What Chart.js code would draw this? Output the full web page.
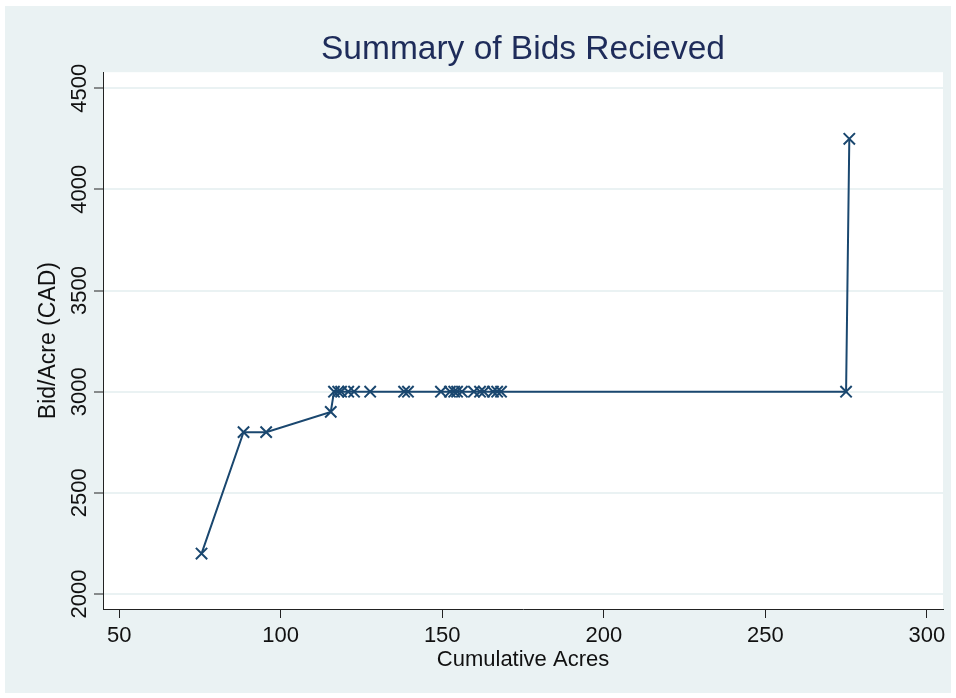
<!DOCTYPE html>
<html>
<head>
<meta charset="utf-8">
<script src="https://cdn.jsdelivr.net/npm/chart.js@4/dist/chart.umd.min.js"></script>
<style>
  html, body { margin: 0; padding: 0; background: #fff; }
  #wrap { width: 956px; height: 698px; }
</style>
</head>
<body>
<div id="wrap"><canvas id="bids"></canvas></div>
<script>
// cumulative acres vs bid per acre
const acres = [75.5, 88.5, 95.5, 115.5,
  116.5, 117.8, 118.7, 120.9, 122.7, 127.7, 138.2, 139.4,
  149.6, 152.4, 153.7, 154.6, 156.1, 159.8, 161.7, 162.9, 165.7, 167.0, 168.2,
  275.0, 276.0];
const bids = [2200, 2800, 2800, 2900,
  3000, 3000, 3000, 3000, 3000, 3000, 3000, 3000,
  3000, 3000, 3000, 3000, 3000, 3000, 3000, 3000, 3000, 3000, 3000,
  3000, 4250];

const xTicks = [50, 100, 150, 200, 250, 300];
const yTicks = [2000, 2500, 3000, 3500, 4000, 4500];

const navy = '#1a476f';
const bg = '#eaf2f3';

// stata style background: white edge, light panel, white plot region
const panelBg = {
  id: 'panelBg',
  beforeDraw(chart) {
    const ctx = chart.ctx;
    const a = chart.chartArea;
    ctx.save();
    ctx.fillStyle = '#ffffff';
    ctx.fillRect(0, 0, chart.width, chart.height);
    ctx.fillStyle = bg;
    ctx.fillRect(5, 6, 946, 687);
    ctx.fillStyle = '#ffffff';
    ctx.fillRect(a.left, a.top, a.right - a.left, a.bottom - a.top);
    ctx.restore();
  }
};

const pts = acres.map((x, i) => ({ x: x, y: bids[i] }));

new Chart(document.getElementById('bids'), {
  type: 'scatter',
  data: {
    datasets: [{
      data: pts,
      showLine: true,
      borderColor: navy,
      borderWidth: 2,
      pointStyle: 'crossRot',
      pointRadius: 8,
      pointBorderWidth: 2,
      pointBorderColor: navy,
      pointBackgroundColor: navy,
      tension: 0
    }]
  },
  options: {
    responsive: true,
    maintainAspectRatio: false,
    animation: false,
    layout: { padding: { top: 0, left: 0, right: 13, bottom: 0 } },
    plugins: {
      legend: { display: false },
      tooltip: { enabled: false },
      title: {
        display: true,
        text: 'Summary of Bids Recieved',
        fullSize: false,
        color: '#1e2c5a',
        font: { family: 'Liberation Sans', size: 33.5, weight: 'normal' },
        padding: { top: 30, bottom: 2 }
      }
    },
    scales: {
      x: {
        type: 'linear',
        min: 45,
        max: 305,
        afterBuildTicks: s => { s.ticks = xTicks.map(v => ({ value: v })); },
        afterFit: s => { s.height = 89; },
        grid: { drawOnChartArea: false, tickLength: 9, tickColor: '#222', tickWidth: 1 },
        border: { display: true, color: '#222', width: 1 },
        ticks: {
          color: '#111',
          font: { family: 'Liberation Sans', size: 22 },
          padding: 5,
          maxRotation: 0,
          callback: v => String(v)
        },
        title: {
          display: true,
          text: 'Cumulative Acres',
          color: '#111',
          font: { family: 'Liberation Sans', size: 22 },
          padding: { top: 0, bottom: 25 }
        }
      },
      y: {
        type: 'linear',
        min: 1926,
        max: 4579,
        afterBuildTicks: s => { s.ticks = yTicks.map(v => ({ value: v })); },
        afterFit: s => { s.width = 103; },
        grid: { color: bg, lineWidth: 2, tickLength: 9, tickColor: '#222', tickWidth: 1 },
        border: { display: true, color: '#222', width: 1 },
        ticks: {
          color: '#111',
          font: { family: 'Liberation Sans', size: 22 },
          minRotation: 90,
          maxRotation: 90,
          crossAlign: 'center',
          padding: -10,
          callback: v => String(v)
        },
        title: {
          display: true,
          text: 'Bid/Acre (CAD)',
          color: '#111',
          font: { family: 'Liberation Sans', size: 23 },
          padding: { top: 35, bottom: 0 }
        }
      }
    }
  },
  plugins: [panelBg]
});
</script>
</body>
</html>
